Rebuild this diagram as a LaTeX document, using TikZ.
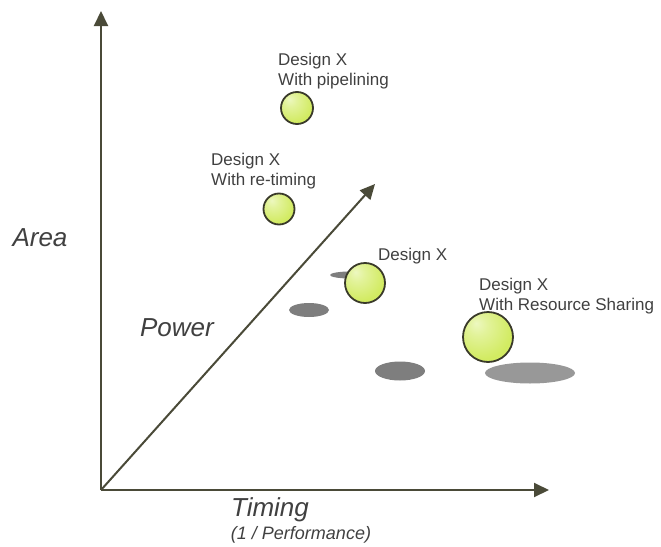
\documentclass[tikz,border=0pt]{standalone}
\usepackage{fontspec}
\setmainfont{Liberation Sans}
\usetikzlibrary{arrows.meta,shapes.geometric}
\usepackage{xcolor}

\definecolor{axisdark}{HTML}{4A4A38}
\definecolor{labelgray}{HTML}{404040}
\definecolor{ballfill}{HTML}{D2EB62}
\definecolor{ballhi}{HTML}{EDF8C0}
\definecolor{ballrim}{HTML}{3A3A2A}
\definecolor{shadowgray}{HTML}{7E7E7E}

% lime ball with the highlight up and to the left
\pgfdeclareradialshading{limeball}{\pgfpoint{-12bp}{14bp}}{color(0bp)=(ballhi); color(10bp)=(ballhi!60!ballfill); color(30bp)=(ballfill); color(70bp)=(ballfill)}

\begin{document}
\begin{tikzpicture}[
    x=1pt, y=-1pt,
    axis/.style={draw=axisdark, line width=2pt, -{Triangle[length=15pt, width=14pt]}},
    ball/.style={circle, draw=ballrim, line width=1.8pt, shading=limeball, inner sep=0pt},
    shadow/.style={ellipse, fill=shadowgray, inner sep=0pt},
    tag/.style={anchor=base west, align=left, inner sep=0pt, text=labelgray, font=\fontsize{17}{20}\selectfont},
    axislabel/.style={text=labelgray, font=\itshape\fontsize{26}{30}\selectfont}
]
\useasboundingbox (0,0) rectangle (661,546);

% axes
\coordinate (o) at (101,490);
\coordinate (ytip) at (101,11);
\coordinate (xtip) at (549,490);
\coordinate (ptip) at (375,184);
\draw[axis] (o) -- (ytip);
\draw[axis] (o) -- (xtip);
\draw[axis] (o) -- (ptip);

\node[axislabel] (area) at (40,238) {Area};
\node[axislabel] (power) at (177,328) {Power};
\node[axislabel] (timing) at (270,510) {Timing};
\node[text=labelgray, font=\itshape\fontsize{18}{22}\selectfont] (perf) at (301,535) {(1 / Performance)};

% shadows on the floor
\node[shadow, minimum width=40pt, minimum height=14pt] (s1) at (309,310) {};
\node[shadow, minimum width=40pt, minimum height=7pt] (s2) at (350,275) {};
\node[shadow, minimum width=50pt, minimum height=19pt] (s3) at (400,371) {};
\node[shadow, fill=shadowgray!80, minimum width=90pt, minimum height=21pt] (s4) at (530,373) {};

% design points
\node[ball, minimum size=32pt] (pipe) at (297,108) {};
\node[ball, minimum size=31pt] (retime) at (279,209) {};
\node[ball, minimum size=40pt] (base) at (365,283) {};
\node[ball, minimum size=50pt] (share) at (488,337) {};

% labels, anchored on the baseline of their last line
\node[tag] (pipetag) at (278,85) {Design X\\With pipelining};
\node[tag] (retimetag) at (211,185) {Design X\\With re-timing};
\node[tag] (basetag) at (378,260) {Design X};
\node[tag] (sharetag) at (479,310) {Design X\\With Resource Sharing};
\end{tikzpicture}
\end{document}
